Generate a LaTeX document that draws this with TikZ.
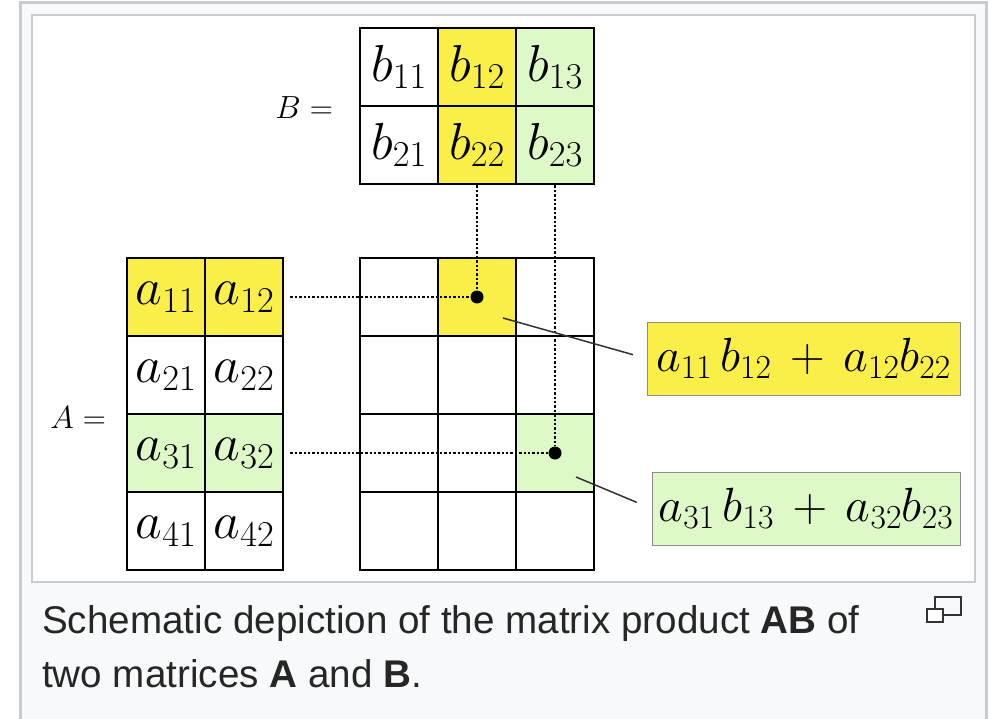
\RequirePackage{fix-cm}
\documentclass[tikz,border=0pt]{standalone}
\usepackage{fontspec}
\newfontfamily\sanspie{Liberation Sans}
\usetikzlibrary{positioning}

\definecolor{amarillo}{RGB}{250,239,72}
\definecolor{verde}{RGB}{222,248,199}
\definecolor{marco}{RGB}{200,204,209}
\definecolor{fondo}{RGB}{248,249,250}
\definecolor{icono}{RGB}{51,51,51}

\begin{document}
\begin{tikzpicture}[x=1pt, y=-1pt,
  celda/.style={draw=black, line width=2.8pt, minimum size=78pt, inner sep=0pt,
                font=\fontsize{52}{58}\selectfont},
  nombre/.style={inner sep=0pt, font=\fontsize{32}{36}\selectfont},
  suma/.style={draw=black!45, line width=1pt, minimum height=73pt, inner sep=0pt,
               font=\fontsize{48}{54}\selectfont},
  punto/.style={circle, fill=black, minimum size=13pt, inner sep=0pt},
  punteada/.style={line width=2.8pt, dash pattern=on 2.4pt off 2pt},
  guia/.style={line width=1.5pt, black!80},
  pie/.style={inner sep=0pt, font=\sanspie\fontsize{38.6}{46}\selectfont, text=black!85}]
  \useasboundingbox (0,0) rectangle (992,719);
  % marcos de la figura
  \draw[marco, line width=3pt, fill=fondo] (20,3) rectangle (986,740);
  \draw[marco, line width=2.5pt, fill=white] (32,15) rectangle (975,582);
  % matriz B
  \node[celda]                (b11) at (399,67)  {$b_{11}$};
  \node[celda, fill=amarillo] (b12) at (477,67)  {$b_{12}$};
  \node[celda, fill=verde]    (b13) at (555,67)  {$b_{13}$};
  \node[celda]                (b21) at (399,145) {$b_{21}$};
  \node[celda, fill=amarillo] (b22) at (477,145) {$b_{22}$};
  \node[celda, fill=verde]    (b23) at (555,145) {$b_{23}$};
  \node[nombre, anchor=east]  (beq) at (333,108) {$B =$};
  % matriz A
  \node[celda, fill=amarillo] (a11) at (166,297) {$a_{11}$};
  \node[celda, fill=amarillo] (a12) at (244,297) {$a_{12}$};
  \node[celda]                (a21) at (166,375) {$a_{21}$};
  \node[celda]                (a22) at (244,375) {$a_{22}$};
  \node[celda, fill=verde]    (a31) at (166,453) {$a_{31}$};
  \node[celda, fill=verde]    (a32) at (244,453) {$a_{32}$};
  \node[celda]                (a41) at (166,531) {$a_{41}$};
  \node[celda]                (a42) at (244,531) {$a_{42}$};
  \node[nombre, anchor=east]  (aeq) at (106,418) {$A =$};
  % producto AB
  \node[celda]                (c11) at (399,297) {};
  \node[celda, fill=amarillo] (c12) at (477,297) {};
  \node[celda]                (c13) at (555,297) {};
  \node[celda]                (c21) at (399,375) {};
  \node[celda]                (c22) at (477,375) {};
  \node[celda]                (c23) at (555,375) {};
  \node[celda]                (c31) at (399,453) {};
  \node[celda]                (c32) at (477,453) {};
  \node[celda, fill=verde]    (c33) at (555,453) {};
  \node[celda]                (c41) at (399,531) {};
  \node[celda]                (c42) at (477,531) {};
  \node[celda]                (c43) at (555,531) {};
  \node[punto] (p12) at (c12) {};
  \node[punto] (p33) at (c33) {};
  \draw[punteada, shorten <=6pt] (a12.east) -- (p12);
  \draw[punteada] (b22.south) -- (p12);
  \draw[punteada, shorten <=6pt] (a32.east) -- (p33);
  \draw[punteada] (b23.south) -- (p33);
  % sumas
  \node[suma, fill=amarillo, minimum width=313pt] (suma1) at (803.5,358.5) {$a_{11}\,b_{12}\,+\,a_{12}b_{22}$};
  \node[suma, fill=verde, minimum width=308pt]    (suma2) at (806,508.5)   {$a_{31}\,b_{13}\,+\,a_{32}b_{23}$};
  \coordinate (g1) at (503,318);
  \coordinate (g2) at (576,477);
  \draw[guia, shorten >=14pt] (g1) -- (suma1.west);
  \draw[guia, shorten >=16pt] (g2) -- (suma2.west);
  % leyenda
  \node[pie, anchor=base west] (pie1) at (42,633) {Schematic depiction of the matrix product \textbf{AB} of};
  \node[pie, anchor=base west] (pie2) at ([yshift=-54pt]pie1.base west) {two matrices \textbf{A} and \textbf{B}.};
  \draw[icono, line width=2pt] (935,597) rectangle (961,615);
  \draw[icono, line width=2pt, fill=white] (927,609) rectangle (943,622);
\end{tikzpicture}
\end{document}
